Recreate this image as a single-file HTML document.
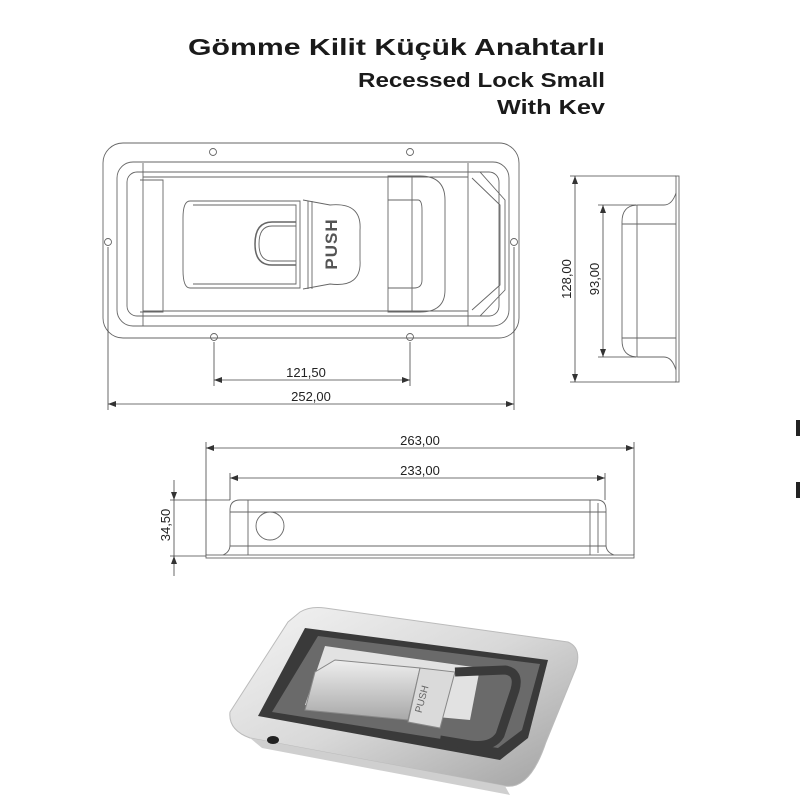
<!DOCTYPE html>
<html><head><meta charset="utf-8"><style>
html,body{margin:0;padding:0;background:#fff;}
svg{display:block;}
text{font-family:"Liberation Sans","DejaVu Sans",sans-serif;}
</style></head><body>
<svg width="800" height="800" viewBox="0 0 800 800" xmlns="http://www.w3.org/2000/svg">
<defs>
<marker id="a" markerWidth="8" markerHeight="6" refX="8" refY="3" orient="auto-start-reverse" markerUnits="userSpaceOnUse"><path d="M0,0 L8,3 L0,6 z" fill="#333"/></marker>
<linearGradient id="sil" x1="0" y1="0" x2="1" y2="1"><stop offset="0" stop-color="#f4f4f4"/><stop offset="0.5" stop-color="#d8d8d8"/><stop offset="1" stop-color="#a0a0a0"/></linearGradient>
<linearGradient id="sil2" x1="0" y1="0" x2="0" y2="1"><stop offset="0" stop-color="#eeeeee"/><stop offset="1" stop-color="#a8a8a8"/></linearGradient>
</defs>
<!-- Title -->
<g font-weight="bold" fill="#1a1a1a">
<text x="188" y="55" font-size="23" textLength="417" lengthAdjust="spacingAndGlyphs">Gömme Kilit Küçük  Anahtarlı</text>
<text x="358" y="87" font-size="20" textLength="247" lengthAdjust="spacingAndGlyphs">Recessed Lock Small</text>
<text x="497" y="114" font-size="20" textLength="108" lengthAdjust="spacingAndGlyphs">With Kev</text>
</g>

<!-- Top view -->
<g fill="none" stroke="#666" stroke-width="0.9">
<rect x="103" y="143" width="416" height="195" rx="20"/>
<rect x="117" y="162" width="392" height="164" rx="16"/>
<rect x="127" y="172" width="372" height="144" rx="10"/>
<line x1="143" y1="163" x2="143" y2="326"/>
<line x1="143" y1="177" x2="468" y2="177"/>
<line x1="143" y1="311" x2="468" y2="311"/>
<path d="M140,180 L163,180 L163,312 L140,312"/>
<line x1="468" y1="163" x2="468" y2="326"/>
<path d="M468,172 L480,172 L505,200 L505,290 L480,316 L468,316"/>
<path d="M472,178 L500,205 L500,285 L472,310"/>
<path d="M388,176 L420,176 Q445,176 445,200 L445,290 Q445,312 420,312 L388,312 Z"/>
<path d="M388,200 L418,200 Q422,200 422,210 L422,280 Q422,288 414,288 L388,288"/>
<line x1="412" y1="176" x2="412" y2="312"/>
<path d="M190,201 L300,201 L300,288 L190,288 Q183,288 183,270 L183,218 Q183,201 190,201Z"/>
<path d="M193,205 L296,205 L296,284 L193,284"/>
<path d="M303,200 L330,205 Q362,202 360,230 L360,260 Q362,288 330,284 L303,289"/>
<path d="M308,201 L308,289 M312,201 L312,289"/>
<path d="M296,222 L272,222 Q255,222 255,244 Q255,265 272,265 L296,265" stroke-width="1.5"/>
<path d="M296,226 L272,226 Q259,226 259,244 Q259,261 272,261 L296,261"/>
<circle cx="213" cy="152" r="3.5"/><circle cx="410" cy="152" r="3.5"/>
<circle cx="108" cy="242" r="3.5"/><circle cx="514" cy="242" r="3.5"/>
<circle cx="214" cy="337" r="3.5"/><circle cx="410" cy="337" r="3.5"/>
</g>
<text transform="translate(337,244) rotate(-90)" text-anchor="middle" font-size="17" fill="#555" font-weight="bold" letter-spacing="1">PUSH</text>

<!-- dims top view -->
<g stroke="#444" stroke-width="0.8" fill="none">
<line x1="214" y1="342" x2="214" y2="386"/><line x1="410" y1="342" x2="410" y2="386"/>
<line x1="214" y1="380" x2="410" y2="380" marker-start="url(#a)" marker-end="url(#a)"/>
<line x1="108" y1="247" x2="108" y2="410"/><line x1="514" y1="247" x2="514" y2="410"/>
<line x1="108" y1="404" x2="514" y2="404" marker-start="url(#a)" marker-end="url(#a)"/>
</g>
<g font-size="13" fill="#222" text-anchor="middle">
<text x="306" y="377">121,50</text>
<text x="311" y="401">252,00</text>
</g>

<!-- Side view -->
<g fill="none" stroke="#666" stroke-width="0.9">
<rect x="676" y="176" width="3" height="206"/>
<path d="M676,193 Q672,205 664,205 L638,205 Q622,205 622,222 L622,340 Q622,357 638,357 L664,357 Q672,357 676,370"/>
<line x1="637" y1="205" x2="637" y2="357"/>
<line x1="622" y1="224" x2="676" y2="224"/><line x1="622" y1="338" x2="676" y2="338"/>
</g>
<g stroke="#444" stroke-width="0.8" fill="none">
<line x1="570" y1="176" x2="676" y2="176"/><line x1="570" y1="382" x2="676" y2="382"/>
<line x1="575" y1="176" x2="575" y2="382" marker-start="url(#a)" marker-end="url(#a)"/>
<line x1="598" y1="205" x2="636" y2="205"/><line x1="598" y1="357" x2="636" y2="357"/>
<line x1="603" y1="205" x2="603" y2="357" marker-start="url(#a)" marker-end="url(#a)"/>
</g>
<g font-size="13" fill="#222" text-anchor="middle">
<text transform="translate(571,279) rotate(-90)">128,00</text>
<text transform="translate(599,279) rotate(-90)">93,00</text>
</g>

<!-- Front view -->
<g fill="none" stroke="#666" stroke-width="0.9">
<rect x="206" y="555" width="428" height="3"/>
<path d="M223,555 Q230,552 230,545 L230,510 Q230,500 240,500 L597,500 Q606,500 606,510 L606,545 Q606,552 614,555"/>
<line x1="248" y1="500" x2="248" y2="555"/>
<line x1="230" y1="512" x2="606" y2="512"/><line x1="230" y1="546" x2="606" y2="546"/>
<line x1="590" y1="500" x2="590" y2="555"/><line x1="598" y1="503" x2="598" y2="553"/>
<circle cx="270" cy="526" r="14"/>
</g>
<g stroke="#444" stroke-width="0.8" fill="none">
<line x1="206" y1="442" x2="206" y2="555"/><line x1="634" y1="442" x2="634" y2="555"/>
<line x1="206" y1="448" x2="634" y2="448" marker-start="url(#a)" marker-end="url(#a)"/>
<line x1="230" y1="473" x2="230" y2="500"/><line x1="605" y1="473" x2="605" y2="500"/>
<line x1="230" y1="478" x2="605" y2="478" marker-start="url(#a)" marker-end="url(#a)"/>
<line x1="170" y1="500" x2="230" y2="500"/><line x1="170" y1="556" x2="206" y2="556"/>
<line x1="174" y1="480" x2="174" y2="500" marker-end="url(#a)"/>
<line x1="174" y1="576" x2="174" y2="556" marker-end="url(#a)"/>
<line x1="174" y1="500" x2="174" y2="556"/>
</g>
<g font-size="13" fill="#222" text-anchor="middle">
<text x="420" y="445">263,00</text>
<text x="420" y="475">233,00</text>
<text transform="translate(170,525) rotate(-90)">34,50</text>
</g>
<rect x="796" y="420" width="4" height="16" fill="#222"/>
<rect x="796" y="482" width="4" height="16" fill="#222"/>

<!-- Photo -->
<path d="M300,612 Q310,606 325,608 L568,642 Q582,648 576,668 L546,742 Q530,790 505,786 L250,738 Q228,730 230,712 L288,622 Z" fill="url(#sil)" stroke="#bbb"/>
<path d="M305,628 L548,660 L528,738 L500,760 L258,716 Z" fill="#3a3a3a"/>
<path d="M318,636 L540,664 L522,730 L498,748 L272,712 Z" fill="#6a6a6a"/>
<path d="M325,646 L480,668 L470,720 L305,705 Z" fill="#e2e2e2"/>
<path d="M335,660 L420,668 L408,720 L305,710 L315,672 Z" fill="url(#sil2)" stroke="#888"/>
<path d="M420,668 L455,672 L440,728 L408,722 Z" fill="#dadada" stroke="#888"/>
<text transform="translate(425,700) rotate(-75)" font-size="10" fill="#666" text-anchor="middle">PUSH</text>
<path d="M455,672 L505,670 Q520,672 515,690 L500,735 Q492,748 470,745 L440,740" fill="none" stroke="#3a3a3a" stroke-width="9"/>
<path d="M250,738 L505,786 L510,795 L262,748 Z" fill="#cfcfcf"/>
<ellipse cx="273" cy="740" rx="6" ry="4" fill="#222"/>
</svg>
</body></html>
